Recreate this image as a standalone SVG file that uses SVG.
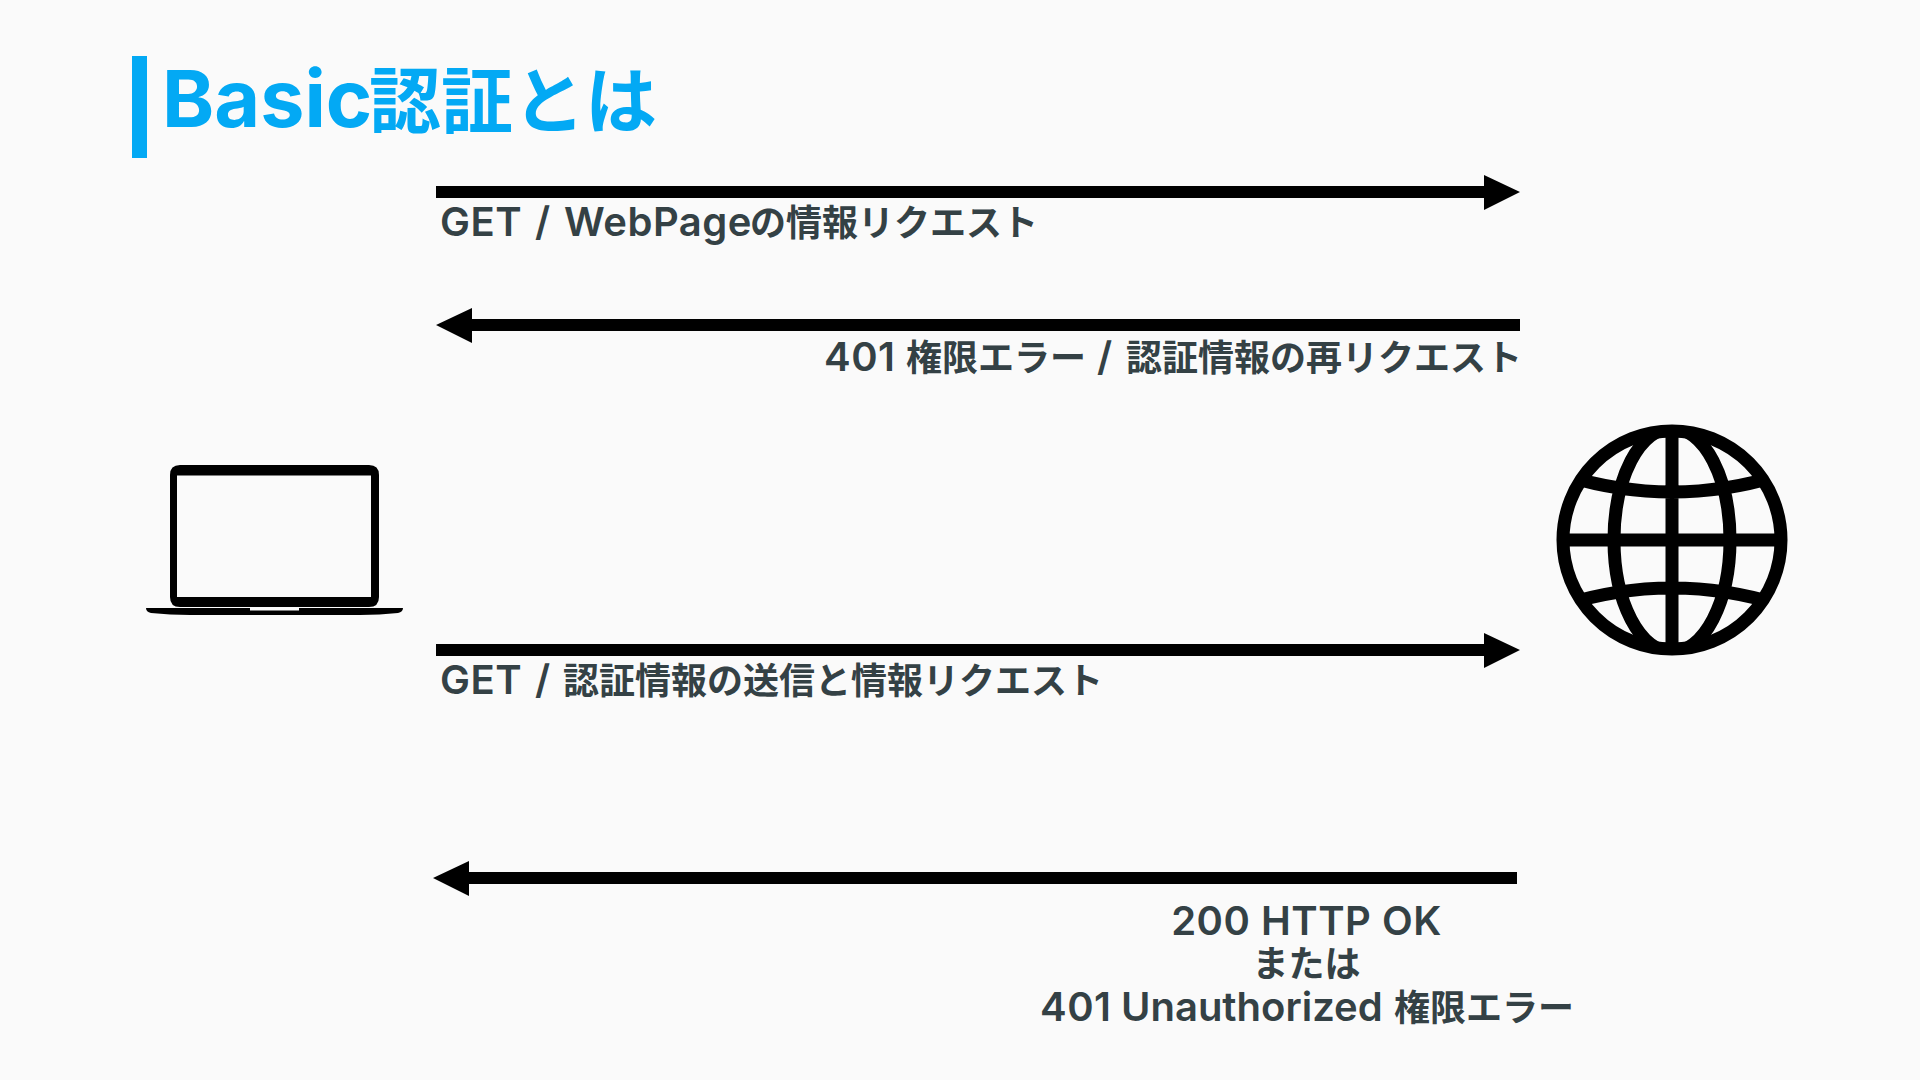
<svg xmlns="http://www.w3.org/2000/svg" width="1920" height="1080" viewBox="0 0 1920 1080">
<style>
text{font-family:"Noto Sans CJK JP",sans-serif;font-weight:700}
.t{font-size:72px;fill:#03a9f4}
.l{font-size:36px;fill:#344145}
.tl{font-family:"Inter","Noto Sans CJK JP",sans-serif;font-size:79px}
.ll{font-family:"Inter","Noto Sans CJK JP",sans-serif;font-size:40px;font-weight:600;letter-spacing:.5px}
.n{letter-spacing:0}
.a{fill:none;stroke:#000;stroke-width:12}
.h{fill:#000}
.g{fill:none;stroke:#000;stroke-width:13}
</style>
<defs><clipPath id="gc"><circle cx="1672" cy="540" r="110"/></clipPath></defs>
<rect width="1920" height="1080" fill="#fafafa"/>
<g id="title">
<rect x="132" y="56" width="15" height="102" fill="#03a9f4"/>
<text class="t" y="127"><tspan class="tl" x="162">Basic</tspan><tspan x="369">認証とは</tspan></text>
</g>
<g id="laptop">
<path fill-rule="evenodd" fill="#000" d="M180 465H369Q379 465 379 475V597Q379 607 369 607H180Q170 607 170 597V475Q170 465 180 465ZM177 475.500V597H371V475.500Z"/>
<path d="M146 608H250V610.500H299V608H403Q403 612 398 613Q380 615 360 615H190Q170 615 151 613Q146 612 146 608Z" fill="#000"/>
</g>
<g id="globe">
<circle class="g" cx="1672" cy="540" r="109"/>
<g clip-path="url(#gc)">
<path class="g" d="M1672 425V655M1557 540H1787M1560 474Q1672 510 1784 474M1560 606Q1672 570 1784 606"/>
<ellipse class="g" cx="1672" cy="540" rx="58" ry="112"/>
</g>
</g>
<g id="connectors">
<path class="a" d="M436 192H1490M470 325H1520M436 650H1490M467 878H1517"/>
<path class="h" d="M1520 192L1484 175V210ZM436 325L472 308V343ZM1520 650L1484 633V668ZM433 878L469 861V896Z"/>
</g>
<g id="label-1"><text class="l" y="236"><tspan class="ll" x="440">GET</tspan><tspan class="ll" x="535">/</tspan><tspan class="ll" x="564">WebPage</tspan><tspan x="750">の情報リクエスト</tspan></text></g>
<g id="label-2"><text class="l" y="371"><tspan class="ll" x="824">401</tspan><tspan x="906">権限エラー</tspan><tspan class="ll" x="1097">/</tspan><tspan x="1126">認証情報の再リクエスト</tspan></text></g>
<g id="label-3"><text class="l" y="694"><tspan class="ll" x="440">GET</tspan><tspan class="ll" x="535">/</tspan><tspan x="563">認証情報の送信と情報リクエスト</tspan></text></g>
<g id="label-4">
<text class="l" x="1306.500" y="935" text-anchor="middle"><tspan class="ll">200 HTTP OK</tspan></text>
<text class="l" x="1306.500" y="977" text-anchor="middle">または</text>
<text class="l" y="1021"><tspan class="ll" x="1040">401</tspan><tspan class="ll n" x="1121">Unauthorized</tspan><tspan x="1394">権限エラー</tspan></text>
</g>
</svg>
